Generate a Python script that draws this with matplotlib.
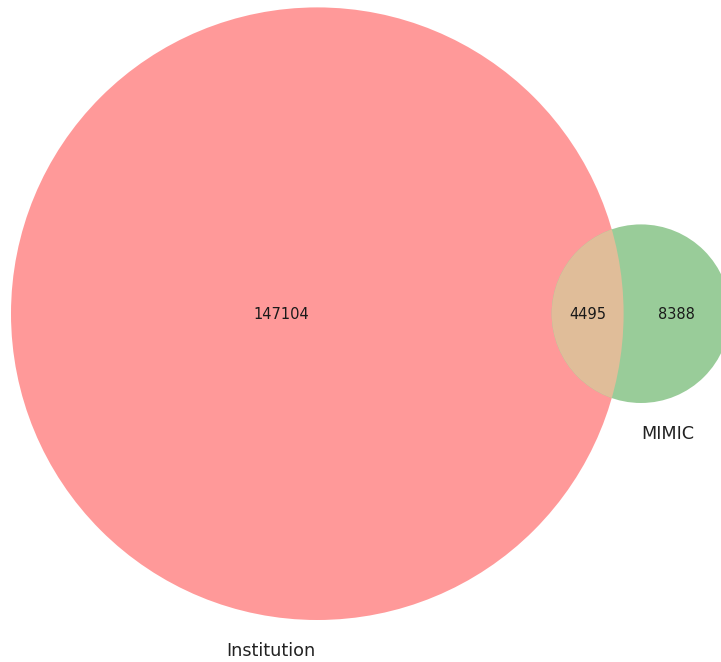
import numpy as np
import matplotlib
matplotlib.use("Agg")
import matplotlib.pyplot as plt
from matplotlib.patches import Circle

# Data
set_labels = ["Institution", "MIMIC"]
only_a = 147104
both = 4495
only_b = 8388
subset_labels = [str(only_a), str(both), str(only_b)]

colors = {"a": "#ff9999", "b": "#99cc99", "ab": "#e0bd99"}

size_a = only_a + both
size_b = only_b + both
r_a = np.sqrt(size_a / np.pi)
r_b = np.sqrt(size_b / np.pi)


def lens_area(d, r1, r2):
    if d >= r1 + r2:
        return 0.0
    if d <= abs(r1 - r2):
        return np.pi * min(r1, r2) ** 2
    a1 = r1 ** 2 * np.arccos((d ** 2 + r1 ** 2 - r2 ** 2) / (2 * d * r1))
    a2 = r2 ** 2 * np.arccos((d ** 2 + r2 ** 2 - r1 ** 2) / (2 * d * r2))
    a3 = 0.5 * np.sqrt((-d + r1 + r2) * (d + r1 - r2) * (d - r1 + r2) * (d + r1 + r2))
    return a1 + a2 - a3


lo, hi = abs(r_a - r_b), r_a + r_b
for _ in range(200):
    mid = 0.5 * (lo + hi)
    if lens_area(mid, r_a, r_b) > both:
        lo = mid
    else:
        hi = mid
d = 0.5 * (lo + hi)

ca = np.array([0.0, 0.0])
cb = np.array([d, 0.0])

W, H = 721, 662
fig = plt.figure(figsize=(W / 100, H / 100), dpi=100)
ax = fig.add_axes([0, 0, 1, 1])
ax.set_axis_off()

# layout: pixel scale and anchor of circle A
s = 306.3 / r_a
ax_px, ay_px = 317.3, 313.7
ax.set_xlim(-ax_px / s, (W - ax_px) / s)
ax.set_ylim(-(H - ay_px) / s, ay_px / s)
ax.set_aspect("equal")

circ_a = Circle(ca, r_a, facecolor=colors["a"], edgecolor="none", linewidth=0)
circ_b = Circle(cb, r_b, facecolor=colors["b"], edgecolor="none", linewidth=0)
ax.add_patch(circ_a)
ax.add_patch(circ_b)
clip = Circle(ca, r_a, transform=ax.transData)
lens = Circle(cb, r_b, facecolor=colors["ab"], edgecolor="none", linewidth=0)
ax.add_patch(lens)
lens.set_clip_path(clip)

xa0, xa1 = ca[0] - r_a, ca[0] + r_a
xb0, xb1 = cb[0] - r_b, cb[0] + r_b
pos = [(xa0 + xb0) / 2, (xb0 + xa1) / 2, (xa1 + xb1) / 2]
for x, t in zip(pos, subset_labels):
    ax.text(x, -0.8 / s, t, ha="center", va="center", fontsize=10.5, color="#1a1a1a")

gap = 22 / s
ax.text(ca[0] - 1.5 / s, ca[1] - r_a - gap, set_labels[0], ha="right", va="top",
        fontsize=12.7, color="#222222")
ax.text(cb[0], cb[1] - r_b - gap, set_labels[1], ha="left", va="top",
        fontsize=12.7, color="#222222")

fig.savefig("out.png", dpi=100)
